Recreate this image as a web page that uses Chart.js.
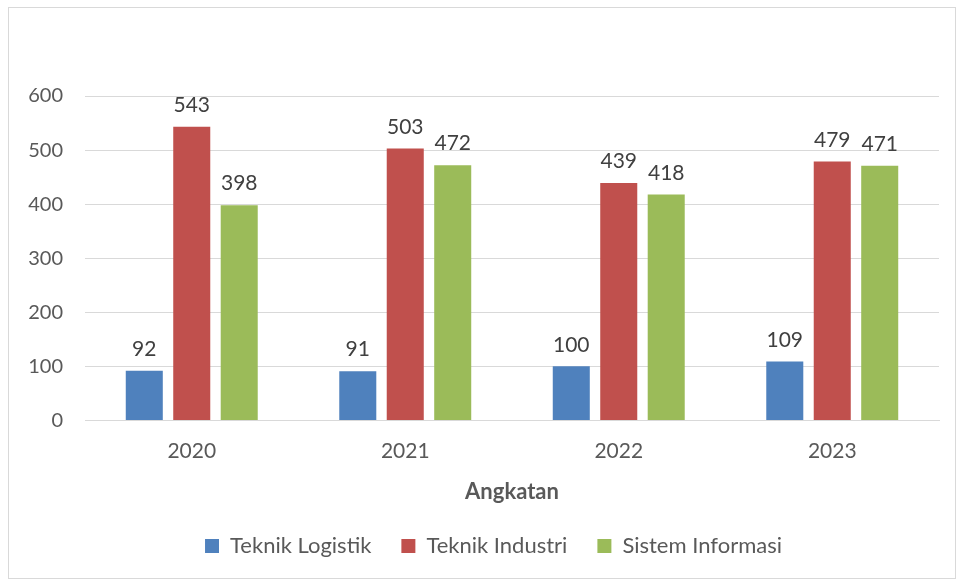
<!DOCTYPE html>
<html>
<head>
<meta charset="utf-8">
<script src="https://cdn.jsdelivr.net/npm/chart.js@4/dist/chart.umd.min.js"></script>
<style>
  body { margin: 0; background: #fff; }
  #wrap { position: relative; width: 957px; height: 581px; }
  #frame { position: absolute; left: 8px; top: 7px; width: 948px; height: 572px; border: 1px solid #d9d9d9; box-sizing: border-box; pointer-events: none; }
  canvas { position: absolute; left: 0; top: 0; }
</style>
</head>
<body>
<div id="wrap">
  <canvas id="chart" width="957" height="581"></canvas>
  <div id="frame"></div>
</div>
<script>
const years = ["2020", "2021", "2022", "2023"];
const logistik = [92, 91, 100, 109];
const industri = [543, 503, 439, 479];
const sisfo = [398, 472, 418, 471];
const seriesNames = ["Teknik Logistik", "Teknik Industri", "Sistem Informasi"];
const yTicks = [0, 100, 200, 300, 400, 500, 600];

const FONT = "Lato, 'Open Sans', sans-serif";

// values over each bar
const barLabels = {
    id: 'barLabels',
    afterDatasetsDraw(chart) {
        const ctx = chart.ctx;
        ctx.save();
        ctx.font = "21px " + FONT;
        ctx.fillStyle = "#404040";
        ctx.textAlign = "center";
        ctx.textBaseline = "bottom";
        chart.data.datasets.forEach((ds, i) => {
            chart.getDatasetMeta(i).data.forEach((bar, j) => {
                ctx.fillText(ds.data[j], bar.x, bar.y - 11);
            });
        });
        ctx.restore();
    }
};

// legend sits a bit right of centre in the original
const shiftLegend = {
    id: 'shiftLegend',
    afterLayout(chart) {
        chart.legend.left += 24;
        chart.legend.right += 24;
    }
};

new Chart(document.getElementById('chart'), {
    type: 'bar',
    data: {
        labels: years,
        datasets: [
            { label: seriesNames[0], data: logistik, backgroundColor: '#4f81bd' },
            { label: seriesNames[1], data: industri, backgroundColor: '#c0504d' },
            { label: seriesNames[2], data: sisfo, backgroundColor: '#9bbb59' }
        ]
    },
    options: {
        responsive: false,
        animation: false,
        devicePixelRatio: 1,
        categoryPercentage: 0.667,
        barPercentage: 0.78,
        layout: { padding: { top: 96, left: 0, right: 18, bottom: 14 } },
        plugins: {
            tooltip: { enabled: false },
            legend: {
                position: 'bottom',
                labels: {
                    boxWidth: 14,
                    boxHeight: 14,
                    padding: 30,
                    color: '#595959',
                    font: { family: FONT, size: 22 }
                }
            }
        },
        scales: {
            x: {
                grid: { display: false },
                border: { color: '#d9d9d9', width: 1 },
                ticks: { color: '#595959', padding: 10, font: { family: FONT, size: 21 } },
                title: {
                    display: true,
                    text: 'Angkatan',
                    color: '#595959',
                    padding: { top: 5, bottom: 0 },
                    font: { family: FONT, size: 22, weight: 'bold' }
                }
            },
            y: {
                min: 0,
                max: 600,
                afterFit(scale) { scale.width = 85; },
                afterBuildTicks(scale) { scale.ticks = yTicks.map(v => ({ value: v })); },
                grid: { color: '#d9d9d9', drawTicks: false },
                border: { display: false },
                ticks: { color: '#595959', padding: 22, font: { family: FONT, size: 20 } }
            }
        }
    },
    plugins: [barLabels, shiftLegend]
});
</script>
</body>
</html>
